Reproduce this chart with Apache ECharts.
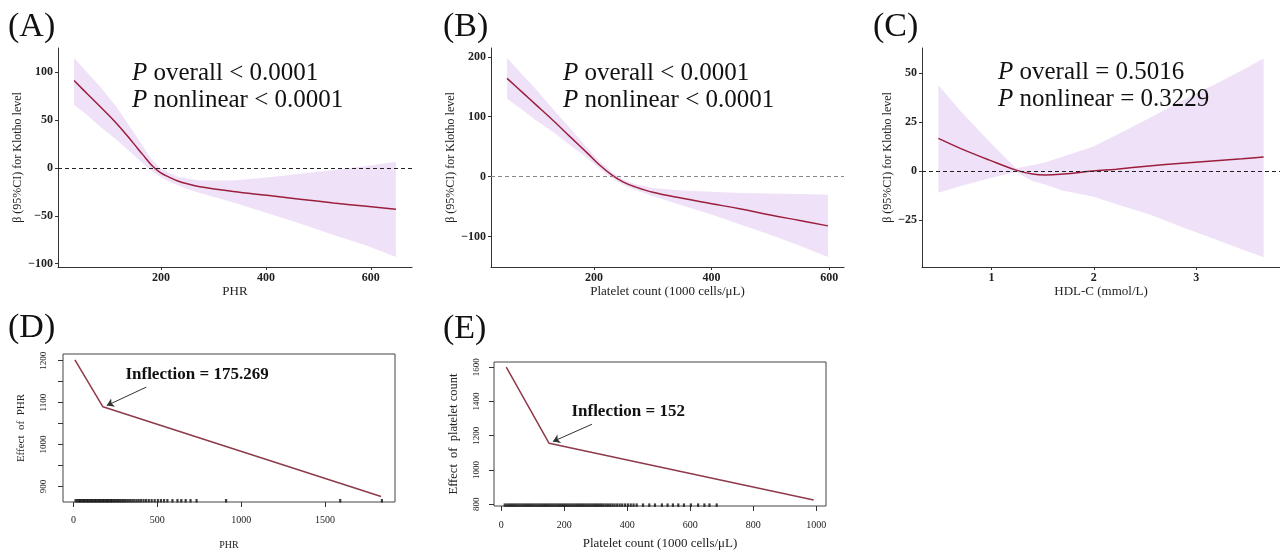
<!DOCTYPE html>
<html>
<head>
<meta charset="utf-8">
<script src="https://cdn.jsdelivr.net/npm/echarts@6/dist/echarts.min.js"></script>
<style>
  html, body { margin: 0; background: #fff; }
  #main { width: 1280px; height: 551px; }
</style>
</head>
<body>
<div id="main"></div>
<script>
// (A) PHR spline
const phrX    = [34, 60, 84, 116, 147, 165, 182, 198, 215, 232, 250, 274, 338, 402, 465, 529, 592, 648];
const phrFit  = [91.4, 77, 64, 46, 26, 14, 3, -4.5, -9.5, -13.5, -16.5, -19.5, -24.5, -28.5, -32.5, -36.5, -40, -43];
const phrUp   = [115, 99, 85, 63, 38, 23, 9, 0, -5, -9, -11, -13, -13, -10, -6, -2, 2, 6.5];
const phrLo   = [66, 55, 43, 29, 14, 5, -3, -9, -14, -18, -22, -26, -36, -47, -58, -70, -81, -93];

// (B) platelet spline
const pltX    = [52, 80, 100, 130, 160, 190, 210, 230, 250, 270, 300, 350, 400, 450, 500, 550, 598];
const pltFit  = [164, 139, 121, 94, 66, 38, 19, 3, -9, -17, -26, -36, -45, -54, -64, -73, -82];
const pltUp   = [198, 168, 147, 113, 80, 46, 25, 8, -5, -12, -19, -23, -25, -27, -28, -29, -30];
const pltLo   = [130, 110, 95, 75, 52, 30, 13, -2, -14, -22, -32, -48, -63, -80, -97, -115, -134];

// (C) HDL-C spline
const hdlX    = [0.48, 0.7, 0.98, 1.24, 1.4, 1.53, 1.7, 1.99, 2.22, 2.54, 2.86, 3.19, 3.45, 3.66];
const hdlFit  = [16.7, 11.5, 5.6, 0.5, -1.5, -2, -1.5, 0, 1, 2.6, 4, 5.3, 6.3, 7.2];
const hdlUp   = [43.9, 30.5, 15, 1.5, 3, 4.5, 7.5, 12.5, 18.5, 27, 36, 44.5, 51.5, 57.5];
const hdlLo   = [-11, -7.6, -3.6, -0.5, -5, -7, -10, -13, -17, -22, -28.5, -35, -40, -44];

// (D) threshold effect of PHR
const segPhrX = [8, 175.269, 1835];
const segPhrY = [1202, 1090, 876];
const rugPhr  = [12, 22, 31, 39, 47, 55, 63, 71, 79, 87, 95, 103, 111, 119, 127, 135, 143, 151, 159, 167,
                 175, 183, 191, 199, 207, 215, 223, 231, 240, 249, 258, 267, 276, 286, 296, 306, 317, 328,
                 339, 351, 363, 376, 389, 403, 418, 433, 449, 466, 484, 503, 521, 540, 560, 590, 620, 643,
                 669, 698, 734, 910, 1591, 1840];

// (E) threshold effect of platelet count
const segPltX = [16, 152, 992];
const segPltY = [1600, 1156, 825];
const rugPlt  = [11, 18, 25, 31, 37, 43, 49, 55, 61, 67, 73, 79, 85, 91, 97, 103, 109, 115, 121, 127,
                 133, 139, 145, 151, 157, 163, 169, 175, 181, 187, 193, 199, 205, 211, 217, 223, 229, 235,
                 241, 247, 253, 259, 265, 271, 277, 283, 289, 295, 301, 307, 313, 319, 325, 332, 339, 346,
                 353, 360, 368, 376, 384, 393, 402, 411, 420, 430, 450, 470, 488, 510, 528, 545, 562, 580,
                 602, 625, 645, 661, 684];

const serif = 'Liberation Serif';
const curveColor = '#9b1f3d';
const bandColor = '#efe2f8';
const segColor = '#8e3a4a';

const minus = v => String(v).replace('-', '\u2212');
const plain = v => String(v);

function splineX(i, min, max, ticks, name) {
  return {
    gridIndex: i, type: 'value', min: min, max: max,
    axisLine: { show: true, onZero: false, lineStyle: { color: '#333', width: 1 } },
    axisTick: { show: true, length: 3, customValues: ticks, lineStyle: { color: '#333' } },
    axisLabel: { customValues: ticks, formatter: plain, fontFamily: serif, fontWeight: 'bold', fontSize: 12, color: '#222', margin: 5 },
    splitLine: { show: false },
    name: name, nameLocation: 'middle', nameGap: 18,
    nameTextStyle: { fontFamily: serif, fontSize: 13, color: '#222' }
  };
}
function splineY(i, min, max, ticks) {
  return {
    gridIndex: i, type: 'value', min: min, max: max,
    axisLine: { show: true, onZero: false, lineStyle: { color: '#333', width: 1 } },
    axisTick: { show: true, length: 3, customValues: ticks, lineStyle: { color: '#333' } },
    axisLabel: { customValues: ticks, formatter: minus, fontFamily: serif, fontWeight: 'bold', fontSize: 12, color: '#222', margin: 5 },
    splitLine: { show: false },
    name: '\u03b2 (95%CI) for Klotho level', nameLocation: 'middle', nameGap: 27,
    nameTextStyle: { fontFamily: serif, fontSize: 12, color: '#222' }
  };
}
function boxX(i, min, max, ticks, name, gap, nameSize, margin) {
  return {
    gridIndex: i, type: 'value', min: min, max: max,
    axisLine: { show: false, onZero: false },
    axisTick: { show: true, length: 5, customValues: ticks, lineStyle: { color: '#333' } },
    axisLabel: { customValues: ticks, formatter: plain, fontFamily: serif, fontSize: 10, color: '#222', margin: margin },
    splitLine: { show: false },
    name: name, nameLocation: 'middle', nameGap: gap,
    nameTextStyle: { fontFamily: serif, fontSize: nameSize, color: '#222' }
  };
}
function boxY(i, min, max, ticks, labels, name, gap, nameSize, margin) {
  return {
    gridIndex: i, type: 'value', min: min, max: max,
    axisLine: { show: false, onZero: false },
    axisTick: { show: true, length: 5, customValues: ticks, lineStyle: { color: '#333' } },
    axisLabel: { customValues: labels, formatter: plain, rotate: 90, fontFamily: serif, fontSize: 9, color: '#222', margin: margin },
    splitLine: { show: false },
    name: name, nameLocation: 'middle', nameGap: gap,
    nameTextStyle: { fontFamily: serif, fontSize: nameSize, color: '#222' }
  };
}

function band(i, xs, lo, hi) {
  return {
    type: 'custom', xAxisIndex: i, yAxisIndex: i, silent: true, z: 1,
    data: xs.map((x, k) => [x, lo[k], hi[k]]),
    renderItem: function (params, api) {
      if (params.dataIndex !== 0) return;
      const pts = [];
      for (let k = 0; k < xs.length; k++) pts.push(api.coord([xs[k], hi[k]]));
      for (let k = xs.length - 1; k >= 0; k--) pts.push(api.coord([xs[k], lo[k]]));
      return { type: 'polygon', shape: { points: pts }, style: { fill: bandColor } };
    }
  };
}
function curve(i, xs, ys, dashColor) {
  return {
    type: 'line', xAxisIndex: i, yAxisIndex: i, z: 3,
    data: xs.map((x, k) => [x, ys[k]]),
    smooth: 0.4, showSymbol: false, silent: true,
    lineStyle: { color: curveColor, width: 1.5 },
    markLine: {
      silent: true, symbol: 'none', label: { show: false },
      lineStyle: { color: dashColor, type: [4, 3], width: 1 },
      data: [{ yAxis: 0 }]
    }
  };
}
function segment(i, xs, ys, note, noteAt, arrowFrom, arrowTo) {
  return {
    type: 'line', xAxisIndex: i, yAxisIndex: i, z: 3,
    data: xs.map((x, k) => [x, ys[k]]),
    showSymbol: false, silent: true,
    lineStyle: { color: segColor, width: 1.5 },
    markPoint: {
      symbol: 'circle', symbolSize: 0, silent: true,
      label: { show: true, position: 'inside', formatter: note, fontFamily: serif, fontWeight: 'bold', fontSize: 17, color: '#111' },
      data: [{ coord: noteAt }]
    },
    markLine: {
      silent: true, symbol: ['none', 'arrow'], symbolSize: 7, label: { show: false },
      lineStyle: { color: '#333', type: 'solid', width: 1 },
      data: [[{ coord: arrowFrom }, { coord: arrowTo }]]
    }
  };
}
function rug(i, xs, yAt) {
  return {
    type: 'scatter', xAxisIndex: i, yAxisIndex: i, silent: true, z: 2,
    data: xs.map(x => [x, yAt]),
    symbol: 'rect', symbolSize: [2.2, 3.5],
    itemStyle: { color: '#111' }
  };
}

function ptext(x, y, s) {
  return {
    type: 'text', x: x, y: y, z: 100,
    style: {
      text: s, fontFamily: serif, fontSize: 25, fill: '#111', verticalAlign: 'middle',
      rich: { i: { fontStyle: 'italic', fontFamily: serif, fontSize: 25, fill: '#111' } }
    }
  };
}
function plabel(x, y, s) {
  return { type: 'text', x: x, y: y, z: 100, style: { text: s, fontFamily: serif, fontSize: 34, fill: '#111', verticalAlign: 'middle' } };
}

const chart = echarts.init(document.getElementById('main'), null, { renderer: 'canvas' });
chart.setOption({
  animation: false,
  backgroundColor: '#fff',
  grid: [
    { left: 58, top: 48, width: 354, height: 219 },
    { left: 491, top: 48, width: 353, height: 219 },
    { left: 922, top: 48, width: 361, height: 219 },
    { left: 63, top: 354, width: 332, height: 148, show: true, borderColor: '#444', borderWidth: 1 },
    { left: 494, top: 362, width: 332, height: 145, show: true, borderColor: '#444', borderWidth: 1 }
  ],
  xAxis: [
    splineX(0, 3.3, 678.7, [200, 400, 600], 'PHR'),
    splineX(1, 24.7, 625.3, [200, 400, 600], 'Platelet count (1000 cells/\u03bcL)'),
    splineX(2, 0.32, 3.82, [1, 2, 3], 'HDL-C (mmol/L)'),
    boxX(3, -63, 1918, [0, 500, 1000, 1500], 'PHR', 38, 10, 13),
    boxX(4, -23, 1031, [0, 200, 400, 600, 800, 1000], 'Platelet count (1000 cells/\u03bcL)', 31, 13, 14)
  ],
  yAxis: [
    splineY(0, -103.4, 125.4, [-100, -50, 0, 50, 100]),
    splineY(1, -150.6, 214.6, [-100, 0, 100, 200]),
    splineY(2, -49, 62.9, [-25, 0, 25, 50]),
    boxY(3, 863, 1216, [900, 950, 1000, 1050, 1100, 1150, 1200], [900, 1000, 1100, 1200], 'Effect  of  PHR', 36, 11, 15),
    boxY(4, 790, 1630, [800, 1000, 1200, 1400, 1600], [800, 1000, 1200, 1400, 1600], 'Effect  of  platelet count', 34, 12.5, 13)
  ],
  series: [
    band(0, phrX, phrLo, phrUp),
    curve(0, phrX, phrFit, '#222'),
    band(1, pltX, pltLo, pltUp),
    curve(1, pltX, pltFit, '#888'),
    band(2, hdlX, hdlLo, hdlUp),
    curve(2, hdlX, hdlFit, '#222'),
    segment(3, segPhrX, segPhrY, 'Inflection = 175.269', [737, 1167], [434, 1137], [198, 1093]),
    rug(3, rugPhr, 866),
    segment(4, segPltX, segPltY, 'Inflection = 152', [403, 1339], [288, 1267], [164, 1166]),
    rug(4, rugPlt, 795)
  ],
  graphic: [
    plabel(8, 27, '(A)'),
    plabel(443, 27, '(B)'),
    plabel(873, 27, '(C)'),
    plabel(8, 328, '(D)'),
    plabel(443, 329, '(E)'),
    ptext(132, 73, '{i|P} overall < 0.0001'),
    ptext(132, 100, '{i|P} nonlinear < 0.0001'),
    ptext(563, 73, '{i|P} overall < 0.0001'),
    ptext(563, 100, '{i|P} nonlinear < 0.0001'),
    ptext(998, 72, '{i|P} overall = 0.5016'),
    ptext(998, 99, '{i|P} nonlinear = 0.3229')
  ]
});
</script>
</body>
</html>
